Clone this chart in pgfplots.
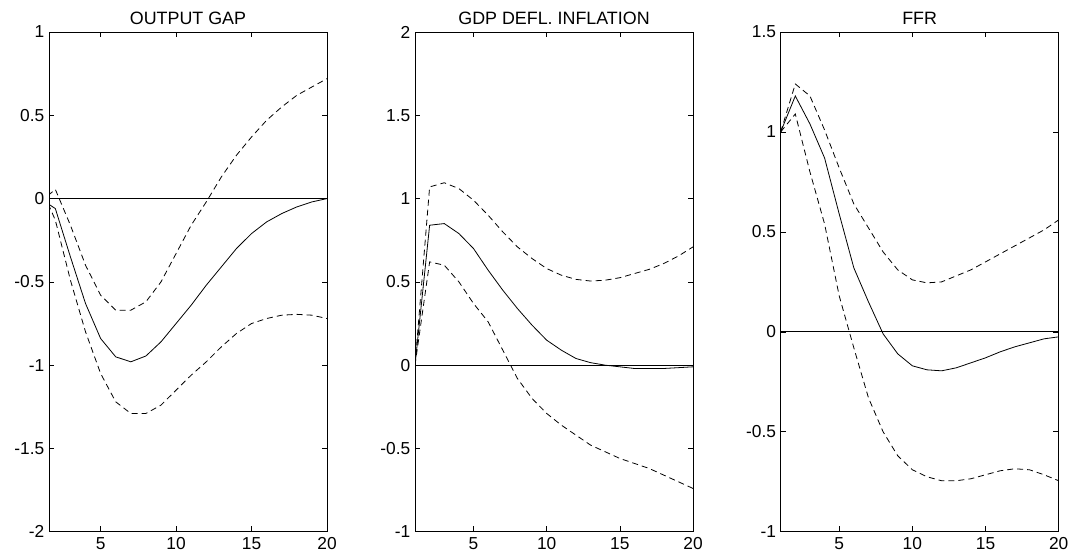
\documentclass[border=0pt]{standalone}
\usepackage{pgfplots}
\pgfplotsset{compat=1.18}
\usepackage{pgfplotstable}
\usepackage{fontspec}
\setmainfont{Liberation Sans}

\pgfplotstableread{
x m up lo
1 0.00 -0.02 0.08
2 -0.06 0.055 -0.13
3 -0.35 -0.16 -0.49
4 -0.63 -0.40 -0.80
5 -0.84 -0.58 -1.05
6 -0.95 -0.67 -1.22
7 -0.98 -0.67 -1.29
8 -0.945 -0.62 -1.29
9 -0.86 -0.50 -1.24
10 -0.75 -0.33 -1.15
11 -0.64 -0.16 -1.06
12 -0.52 -0.02 -0.98
13 -0.41 0.13 -0.89
14 -0.30 0.26 -0.81
15 -0.21 0.37 -0.75
16 -0.14 0.47 -0.72
17 -0.09 0.55 -0.70
18 -0.05 0.62 -0.695
19 -0.02 0.67 -0.70
20 0.00 0.72 -0.72
}\gap

\pgfplotstableread{
x m up lo
1 0.00 0.00 0.00
2 0.84 1.07 0.62
3 0.85 1.095 0.60
4 0.79 1.06 0.50
5 0.70 0.99 0.37
6 0.57 0.90 0.26
7 0.45 0.80 0.09
8 0.34 0.71 -0.08
9 0.24 0.64 -0.20
10 0.15 0.58 -0.29
11 0.09 0.54 -0.36
12 0.04 0.515 -0.42
13 0.015 0.505 -0.48
14 0.00 0.51 -0.52
15 -0.01 0.525 -0.56
16 -0.02 0.55 -0.59
17 -0.02 0.575 -0.62
18 -0.02 0.61 -0.66
19 -0.015 0.655 -0.70
20 -0.01 0.71 -0.74
}\infl

\pgfplotstableread{
x m up lo
1 1.00 1.00 1.00
2 1.18 1.24 1.09
3 1.04 1.18 0.80
4 0.87 1.01 0.54
5 0.59 0.82 0.18
6 0.32 0.64 -0.08
7 0.15 0.52 -0.33
8 -0.01 0.40 -0.50
9 -0.11 0.31 -0.62
10 -0.17 0.26 -0.69
11 -0.19 0.245 -0.725
12 -0.195 0.25 -0.745
13 -0.18 0.28 -0.745
14 -0.155 0.31 -0.735
15 -0.13 0.35 -0.715
16 -0.10 0.39 -0.695
17 -0.075 0.43 -0.685
18 -0.055 0.47 -0.69
19 -0.035 0.51 -0.715
20 -0.025 0.56 -0.745
}\ffr

\pgfplotsset{
  irf/.style={
    scale only axis,
    width=208.5pt, height=374.8pt,
    anchor=south west,
    xmax=20,
    xtick={5,10,15,20},
    xticklabels={5,10,15,20},
    tick align=inside,
    major tick length=4pt,
    tick style={black, line width=0.5pt},
    axis line style={line width=0.6pt},
    ticklabel style={font=\fontsize{13}{15}\selectfont},
    xticklabel style={yshift=-1pt},
    title style={font=\fontsize{13.4}{15}\selectfont, yshift=-4pt},
    /pgf/number format/assume math mode=true,
  },
  mline/.style={black, line width=0.6pt},
  dline/.style={black, line width=0.6pt, dash pattern=on 4.5pt off 3pt},
  zline/.style={black, line width=0.6pt},
}

\begin{document}
\begin{tikzpicture}
\path (0,0) rectangle (805.5pt,418.5pt);

\begin{axis}[irf, at={(36.75pt,19.7pt)},
  xmin=1.58, ymin=-2, ymax=1,
  ytick={-2,-1.5,-1,-0.5,0,0.5,1},
  yticklabels={-2,-1.5,-1,-0.5,0,0.5,1},
  title={OUTPUT GAP}]
\addplot[zline] coordinates {(0,0) (20,0)};
\addplot[mline] table[x=x,y=m] {\gap};
\addplot[dline] table[x=x,y=up] {\gap};
\addplot[dline] table[x=x,y=lo] {\gap};
\end{axis}

\begin{axis}[irf, at={(311.25pt,19.7pt)},
  xmin=1, ymin=-1, ymax=2,
  ytick={-1,-0.5,0,0.5,1,1.5,2},
  yticklabels={-1,-0.5,0,0.5,1,1.5,2},
  title={GDP DEFL. INFLATION}]
\addplot[zline] coordinates {(0,0) (20,0)};
\addplot[mline] table[x=x,y=m] {\infl};
\addplot[dline] table[x=x,y=up] {\infl};
\addplot[dline] table[x=x,y=lo] {\infl};
\end{axis}

\begin{axis}[irf, at={(585.5pt,19.7pt)},
  xmin=1, ymin=-1, ymax=1.5,
  ytick={-1,-0.5,0,0.5,1,1.5},
  yticklabels={-1,-0.5,0,0.5,1,1.5},
  title={FFR}]
\addplot[zline] coordinates {(0,0) (20,0)};
\addplot[mline] table[x=x,y=m] {\ffr};
\addplot[dline] table[x=x,y=up] {\ffr};
\addplot[dline] table[x=x,y=lo] {\ffr};
\end{axis}
\end{tikzpicture}
\end{document}
